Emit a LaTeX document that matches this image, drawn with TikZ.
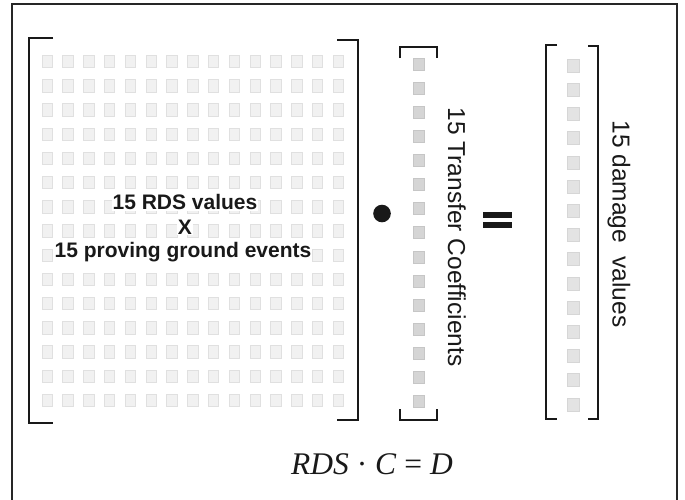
\documentclass[tikz,border=0pt]{standalone}
\usepackage{fontspec}
\setmainfont{Liberation Sans}
\newfontfamily\tnr{Liberation Serif}
\begin{document}
\begin{tikzpicture}[x=1pt,y=-1pt,
  brk/.style={line width=2.6pt,black!90},
  sqA/.style={fill=gray!11,draw=gray!24,line width=0.5pt},
  sqB/.style={fill=gray!33,draw=gray!45,line width=0.5pt},
  sqC/.style={fill=gray!22,draw=gray!32,line width=0.5pt},
  boldlbl/.style={font=\bfseries\fontsize{21}{22}\selectfont,fill=white,inner sep=1pt,text=black!90},
  vlbl/.style={font=\fontsize{24.5}{26}\selectfont,rotate=-90,text=black!90}]
\useasboundingbox (0,0) rectangle (685,499);
\begin{scope}
\clip (0,0) rectangle (685,499);
\draw[line width=2pt,black!85] (12,4) rectangle (677,520);
\end{scope}
% big matrix grid
\foreach \i in {0,...,14}{
  \foreach \j in {0,...,14}{
    \fill[sqA] ({47+20.8*\i-5.2},{61.5+24.2*\j-6.2}) rectangle ++(10.4,12.4);
  }
}
% big matrix brackets
\draw[brk] (53,38) -- (29,38) -- (29,423) -- (53,423);
\draw[brk] (337,40) -- (358,40) -- (358,420) -- (337,420);
% labels inside
\node[boldlbl] (l1) at (185,202) {15 RDS values};
\node[boldlbl] (l2) at (185,227) {X};
\node[boldlbl] (l3) at (183,252) {15 proving ground events};
% dot
\fill[black!90] (382,213.5) circle (8.8);
\node[inner sep=0pt] (dot) at (382,213.5) {};
% middle vector
\foreach \j in {0,...,14}{
  \fill[sqB] (413,{64+24.1*\j-6}) rectangle ++(11,12);
}
\draw[brk] (400,58) -- (400,47) -- (437,47) -- (437,58);
\draw[brk] (400,409) -- (400,420) -- (437,420) -- (437,409);
\node[vlbl] (tc) at (457,237) {15 Transfer Coefficients};
% equals
\fill[black!90] (483,212) rectangle (512,217.5);
\fill[black!90] (483,222) rectangle (512,227.5);
\node[inner sep=0pt] (eq) at (497.5,219.5) {};
% right vector
\foreach \j in {0,...,14}{
  \fill[sqC] (567,{65.5+24.2*\j-6.5}) rectangle ++(12,13);
}
\draw[brk] (557,45) -- (546,45) -- (546,419) -- (557,419);
\draw[brk] (588,46) -- (598,46) -- (598,419) -- (588,419);
\node[vlbl] (dv) at (619,224) {15 damage\ \ values};
% equation
\node[font=\tnr\fontsize{31.5}{33}\selectfont,text=black!90] (eqn) at (372,464) {\textit{RDS} · \textit{C} = \textit{D}};
\end{tikzpicture}
\end{document}
